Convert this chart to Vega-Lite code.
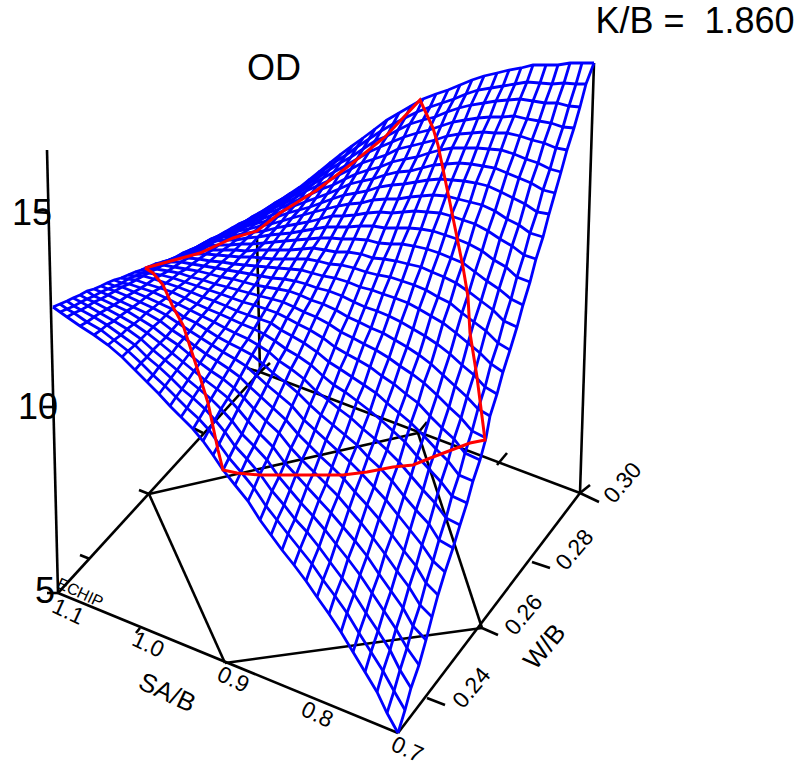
{"$schema":"https://vega.github.io/schema/vega-lite/v6.json","width":802,"height":769,"autosize":{"type":"none"},"padding":0,"background":"white","config":{"view":{"stroke":null}},"datasets":{"axes":[{"s":"sa","x":58,"y":593},{"s":"sa","x":398,"y":733},{"s":"w","x":398,"y":733},{"s":"w","x":580,"y":493},{"s":"b","x":580,"y":493},{"s":"b","x":260,"y":372},{"s":"l","x":260,"y":372},{"s":"l","x":58,"y":593},{"s":"z1","x":58,"y":593},{"s":"z1","x":47,"y":150},{"s":"z2","x":580,"y":493},{"s":"z2","x":594,"y":63},{"s":"z3","x":260,"y":372},{"s":"z3","x":257,"y":237},{"s":"r1","x":149,"y":494},{"s":"r1","x":225,"y":663},{"s":"r2","x":225,"y":663},{"s":"r2","x":482,"y":628},{"s":"r3","x":482,"y":628},{"s":"r3","x":418,"y":433},{"s":"r4","x":418,"y":433},{"s":"r4","x":149,"y":494},{"s":"t1","x":35,"y":212},{"s":"t1","x":50,"y":213},{"s":"t2","x":43,"y":407},{"s":"t2","x":55,"y":407},{"s":"t3","x":47,"y":593},{"s":"t3","x":58,"y":593},{"s":"t4","x":427,"y":698},{"s":"t4","x":445,"y":705},{"s":"t5","x":482,"y":628},{"s":"t5","x":498,"y":635},{"s":"t6","x":532,"y":562},{"s":"t6","x":550,"y":568},{"s":"t7","x":580,"y":493},{"s":"t7","x":599,"y":502},{"s":"t8","x":580,"y":493},{"s":"t8","x":590,"y":485},{"s":"t9","x":497,"y":465},{"s":"t9","x":507,"y":453},{"s":"t10","x":418,"y":433},{"s":"t10","x":427,"y":422},{"s":"t11","x":260,"y":372},{"s":"t11","x":270,"y":363},{"s":"t12","x":260,"y":372},{"s":"t12","x":247,"y":368},{"s":"t13","x":193,"y":428},{"s":"t13","x":203,"y":433},{"s":"t14","x":139,"y":490},{"s":"t14","x":149,"y":494},{"s":"t15","x":80,"y":555},{"s":"t15","x":90,"y":559},{"s":"t16","x":140,"y":628},{"s":"t16","x":136,"y":633}],"red":[{"o":0,"x":145,"y":268},{"o":1,"x":200,"y":253},{"o":2,"x":233,"y":238},{"o":3,"x":257,"y":231},{"o":4,"x":280,"y":213},{"o":5,"x":317,"y":190},{"o":6,"x":350,"y":165},{"o":7,"x":385,"y":137},{"o":8,"x":420,"y":100},{"o":9,"x":433,"y":128},{"o":10,"x":438,"y":145},{"o":11,"x":450,"y":203},{"o":12,"x":463,"y":267},{"o":13,"x":468,"y":297},{"o":14,"x":470,"y":333},{"o":15,"x":477,"y":377},{"o":16,"x":485,"y":440},{"o":17,"x":470,"y":443},{"o":18,"x":433,"y":457},{"o":19,"x":413,"y":465},{"o":20,"x":393,"y":467},{"o":21,"x":367,"y":472},{"o":22,"x":343,"y":475},{"o":23,"x":260,"y":475},{"o":24,"x":237,"y":473},{"o":25,"x":223,"y":470},{"o":26,"x":218,"y":450},{"o":27,"x":208,"y":403},{"o":28,"x":200,"y":377},{"o":29,"x":183,"y":325},{"o":30,"x":173,"y":307},{"o":31,"x":163,"y":285},{"o":32,"x":153,"y":273},{"o":33,"x":145,"y":268}],"mesh":[
{"i":0,"j":0,"x":594,"y":63},{"i":0,"j":1,"x":586,"y":84},{"i":0,"j":2,"x":580,"y":107},{"i":0,"j":3,"x":574,"y":128},{"i":0,"j":4,"x":567,"y":150},{"i":0,"j":5,"x":561,"y":172},{"i":0,"j":6,"x":555,"y":193},{"i":0,"j":7,"x":549,"y":214},{"i":0,"j":8,"x":543,"y":237},{"i":0,"j":9,"x":536,"y":259},{"i":0,"j":10,"x":530,"y":282},{"i":0,"j":11,"x":523,"y":305},{"i":0,"j":12,"x":517,"y":327},{"i":0,"j":13,"x":510,"y":350},{"i":0,"j":14,"x":503,"y":372},{"i":0,"j":15,"x":497,"y":394},{"i":0,"j":16,"x":490,"y":416},{"i":0,"j":17,"x":486,"y":438},{"i":0,"j":18,"x":480,"y":460},{"i":0,"j":19,"x":473,"y":481},{"i":0,"j":20,"x":467,"y":503},{"i":0,"j":21,"x":460,"y":525},{"i":0,"j":22,"x":453,"y":548},{"i":0,"j":23,"x":445,"y":572},{"i":0,"j":24,"x":438,"y":595},{"i":0,"j":25,"x":432,"y":617},{"i":0,"j":26,"x":426,"y":640},{"i":0,"j":27,"x":419,"y":665},{"i":0,"j":28,"x":411,"y":688},{"i":0,"j":29,"x":405,"y":710},{"i":0,"j":30,"x":398,"y":733},
{"i":1,"j":0,"x":582,"y":63},{"i":1,"j":1,"x":576,"y":84},{"i":1,"j":2,"x":569,"y":106},{"i":1,"j":3,"x":563,"y":127},{"i":1,"j":4,"x":556,"y":148},{"i":1,"j":5,"x":550,"y":169},{"i":1,"j":6,"x":543,"y":190},{"i":1,"j":7,"x":537,"y":212},{"i":1,"j":8,"x":530,"y":233},{"i":1,"j":9,"x":524,"y":255},{"i":1,"j":10,"x":517,"y":277},{"i":1,"j":11,"x":511,"y":299},{"i":1,"j":12,"x":504,"y":321},{"i":1,"j":13,"x":498,"y":343},{"i":1,"j":14,"x":491,"y":364},{"i":1,"j":15,"x":485,"y":387},{"i":1,"j":16,"x":478,"y":409},{"i":1,"j":17,"x":472,"y":431},{"i":1,"j":18,"x":465,"y":453},{"i":1,"j":19,"x":459,"y":475},{"i":1,"j":20,"x":452,"y":496},{"i":1,"j":21,"x":446,"y":518},{"i":1,"j":22,"x":439,"y":540},{"i":1,"j":23,"x":433,"y":561},{"i":1,"j":24,"x":426,"y":583},{"i":1,"j":25,"x":420,"y":605},{"i":1,"j":26,"x":413,"y":626},{"i":1,"j":27,"x":407,"y":648},{"i":1,"j":28,"x":400,"y":670},{"i":1,"j":29,"x":394,"y":691},{"i":1,"j":30,"x":387,"y":713},
{"i":2,"j":0,"x":570,"y":63},{"i":2,"j":1,"x":564,"y":83},{"i":2,"j":2,"x":557,"y":103},{"i":2,"j":3,"x":551,"y":123},{"i":2,"j":4,"x":544,"y":143},{"i":2,"j":5,"x":538,"y":163},{"i":2,"j":6,"x":531,"y":183},{"i":2,"j":7,"x":525,"y":204},{"i":2,"j":8,"x":519,"y":225},{"i":2,"j":9,"x":512,"y":246},{"i":2,"j":10,"x":506,"y":267},{"i":2,"j":11,"x":499,"y":289},{"i":2,"j":12,"x":493,"y":310},{"i":2,"j":13,"x":486,"y":331},{"i":2,"j":14,"x":480,"y":353},{"i":2,"j":15,"x":474,"y":375},{"i":2,"j":16,"x":467,"y":397},{"i":2,"j":17,"x":461,"y":418},{"i":2,"j":18,"x":454,"y":439},{"i":2,"j":19,"x":448,"y":461},{"i":2,"j":20,"x":441,"y":482},{"i":2,"j":21,"x":435,"y":503},{"i":2,"j":22,"x":429,"y":524},{"i":2,"j":23,"x":422,"y":545},{"i":2,"j":24,"x":416,"y":566},{"i":2,"j":25,"x":409,"y":587},{"i":2,"j":26,"x":403,"y":608},{"i":2,"j":27,"x":396,"y":629},{"i":2,"j":28,"x":390,"y":650},{"i":2,"j":29,"x":383,"y":671},{"i":2,"j":30,"x":377,"y":692},
{"i":3,"j":0,"x":558,"y":65},{"i":3,"j":1,"x":552,"y":84},{"i":3,"j":2,"x":545,"y":103},{"i":3,"j":3,"x":539,"y":121},{"i":3,"j":4,"x":532,"y":140},{"i":3,"j":5,"x":526,"y":159},{"i":3,"j":6,"x":519,"y":178},{"i":3,"j":7,"x":513,"y":198},{"i":3,"j":8,"x":507,"y":219},{"i":3,"j":9,"x":500,"y":239},{"i":3,"j":10,"x":494,"y":260},{"i":3,"j":11,"x":487,"y":281},{"i":3,"j":12,"x":481,"y":301},{"i":3,"j":13,"x":474,"y":322},{"i":3,"j":14,"x":468,"y":343},{"i":3,"j":15,"x":462,"y":365},{"i":3,"j":16,"x":455,"y":386},{"i":3,"j":17,"x":449,"y":407},{"i":3,"j":18,"x":442,"y":428},{"i":3,"j":19,"x":436,"y":449},{"i":3,"j":20,"x":429,"y":469},{"i":3,"j":21,"x":423,"y":490},{"i":3,"j":22,"x":416,"y":510},{"i":3,"j":23,"x":410,"y":530},{"i":3,"j":24,"x":404,"y":551},{"i":3,"j":25,"x":397,"y":571},{"i":3,"j":26,"x":391,"y":591},{"i":3,"j":27,"x":384,"y":611},{"i":3,"j":28,"x":378,"y":631},{"i":3,"j":29,"x":371,"y":652},{"i":3,"j":30,"x":365,"y":672},
{"i":4,"j":0,"x":546,"y":65},{"i":4,"j":1,"x":540,"y":83},{"i":4,"j":2,"x":533,"y":101},{"i":4,"j":3,"x":527,"y":119},{"i":4,"j":4,"x":520,"y":136},{"i":4,"j":5,"x":514,"y":154},{"i":4,"j":6,"x":507,"y":173},{"i":4,"j":7,"x":501,"y":192},{"i":4,"j":8,"x":495,"y":211},{"i":4,"j":9,"x":488,"y":231},{"i":4,"j":10,"x":482,"y":251},{"i":4,"j":11,"x":475,"y":272},{"i":4,"j":12,"x":469,"y":292},{"i":4,"j":13,"x":462,"y":313},{"i":4,"j":14,"x":456,"y":333},{"i":4,"j":15,"x":450,"y":354},{"i":4,"j":16,"x":443,"y":375},{"i":4,"j":17,"x":437,"y":395},{"i":4,"j":18,"x":430,"y":416},{"i":4,"j":19,"x":424,"y":436},{"i":4,"j":20,"x":417,"y":456},{"i":4,"j":21,"x":411,"y":476},{"i":4,"j":22,"x":404,"y":496},{"i":4,"j":23,"x":398,"y":515},{"i":4,"j":24,"x":392,"y":535},{"i":4,"j":25,"x":385,"y":554},{"i":4,"j":26,"x":379,"y":574},{"i":4,"j":27,"x":372,"y":593},{"i":4,"j":28,"x":366,"y":613},{"i":4,"j":29,"x":359,"y":633},{"i":4,"j":30,"x":353,"y":652},
{"i":5,"j":0,"x":533,"y":65},{"i":5,"j":1,"x":527,"y":82},{"i":5,"j":2,"x":520,"y":99},{"i":5,"j":3,"x":514,"y":116},{"i":5,"j":4,"x":507,"y":133},{"i":5,"j":5,"x":501,"y":150},{"i":5,"j":6,"x":495,"y":168},{"i":5,"j":7,"x":488,"y":186},{"i":5,"j":8,"x":482,"y":205},{"i":5,"j":9,"x":475,"y":224},{"i":5,"j":10,"x":469,"y":244},{"i":5,"j":11,"x":463,"y":263},{"i":5,"j":12,"x":456,"y":283},{"i":5,"j":13,"x":450,"y":303},{"i":5,"j":14,"x":443,"y":323},{"i":5,"j":15,"x":437,"y":344},{"i":5,"j":16,"x":431,"y":364},{"i":5,"j":17,"x":424,"y":383},{"i":5,"j":18,"x":418,"y":403},{"i":5,"j":19,"x":411,"y":423},{"i":5,"j":20,"x":405,"y":442},{"i":5,"j":21,"x":399,"y":462},{"i":5,"j":22,"x":392,"y":481},{"i":5,"j":23,"x":386,"y":500},{"i":5,"j":24,"x":379,"y":519},{"i":5,"j":25,"x":373,"y":538},{"i":5,"j":26,"x":367,"y":556},{"i":5,"j":27,"x":360,"y":575},{"i":5,"j":28,"x":354,"y":594},{"i":5,"j":29,"x":347,"y":613},{"i":5,"j":30,"x":341,"y":632},
{"i":6,"j":0,"x":521,"y":68},{"i":6,"j":1,"x":515,"y":84},{"i":6,"j":2,"x":508,"y":100},{"i":6,"j":3,"x":502,"y":117},{"i":6,"j":4,"x":495,"y":133},{"i":6,"j":5,"x":489,"y":149},{"i":6,"j":6,"x":483,"y":166},{"i":6,"j":7,"x":476,"y":183},{"i":6,"j":8,"x":470,"y":202},{"i":6,"j":9,"x":463,"y":220},{"i":6,"j":10,"x":457,"y":239},{"i":6,"j":11,"x":451,"y":258},{"i":6,"j":12,"x":444,"y":277},{"i":6,"j":13,"x":438,"y":297},{"i":6,"j":14,"x":431,"y":316},{"i":6,"j":15,"x":425,"y":336},{"i":6,"j":16,"x":419,"y":355},{"i":6,"j":17,"x":412,"y":374},{"i":6,"j":18,"x":406,"y":394},{"i":6,"j":19,"x":399,"y":413},{"i":6,"j":20,"x":393,"y":431},{"i":6,"j":21,"x":387,"y":450},{"i":6,"j":22,"x":380,"y":468},{"i":6,"j":23,"x":374,"y":487},{"i":6,"j":24,"x":367,"y":505},{"i":6,"j":25,"x":361,"y":523},{"i":6,"j":26,"x":355,"y":541},{"i":6,"j":27,"x":348,"y":559},{"i":6,"j":28,"x":342,"y":578},{"i":6,"j":29,"x":335,"y":596},{"i":6,"j":30,"x":329,"y":614},
{"i":7,"j":0,"x":509,"y":70},{"i":7,"j":1,"x":503,"y":86},{"i":7,"j":2,"x":496,"y":101},{"i":7,"j":3,"x":490,"y":117},{"i":7,"j":4,"x":483,"y":132},{"i":7,"j":5,"x":477,"y":148},{"i":7,"j":6,"x":471,"y":164},{"i":7,"j":7,"x":464,"y":181},{"i":7,"j":8,"x":458,"y":199},{"i":7,"j":9,"x":451,"y":216},{"i":7,"j":10,"x":445,"y":235},{"i":7,"j":11,"x":439,"y":253},{"i":7,"j":12,"x":432,"y":272},{"i":7,"j":13,"x":426,"y":290},{"i":7,"j":14,"x":419,"y":309},{"i":7,"j":15,"x":413,"y":329},{"i":7,"j":16,"x":407,"y":347},{"i":7,"j":17,"x":400,"y":366},{"i":7,"j":18,"x":394,"y":384},{"i":7,"j":19,"x":387,"y":403},{"i":7,"j":20,"x":381,"y":420},{"i":7,"j":21,"x":375,"y":439},{"i":7,"j":22,"x":368,"y":457},{"i":7,"j":23,"x":362,"y":474},{"i":7,"j":24,"x":355,"y":492},{"i":7,"j":25,"x":349,"y":509},{"i":7,"j":26,"x":343,"y":527},{"i":7,"j":27,"x":336,"y":544},{"i":7,"j":28,"x":330,"y":562},{"i":7,"j":29,"x":323,"y":580},{"i":7,"j":30,"x":317,"y":597},
{"i":8,"j":0,"x":497,"y":73},{"i":8,"j":1,"x":491,"y":88},{"i":8,"j":2,"x":484,"y":103},{"i":8,"j":3,"x":478,"y":118},{"i":8,"j":4,"x":472,"y":133},{"i":8,"j":5,"x":465,"y":148},{"i":8,"j":6,"x":459,"y":163},{"i":8,"j":7,"x":452,"y":180},{"i":8,"j":8,"x":446,"y":196},{"i":8,"j":9,"x":440,"y":213},{"i":8,"j":10,"x":433,"y":231},{"i":8,"j":11,"x":427,"y":249},{"i":8,"j":12,"x":421,"y":267},{"i":8,"j":13,"x":414,"y":285},{"i":8,"j":14,"x":408,"y":303},{"i":8,"j":15,"x":401,"y":322},{"i":8,"j":16,"x":395,"y":340},{"i":8,"j":17,"x":389,"y":358},{"i":8,"j":18,"x":382,"y":376},{"i":8,"j":19,"x":376,"y":393},{"i":8,"j":20,"x":370,"y":411},{"i":8,"j":21,"x":363,"y":429},{"i":8,"j":22,"x":357,"y":445},{"i":8,"j":23,"x":350,"y":462},{"i":8,"j":24,"x":344,"y":479},{"i":8,"j":25,"x":338,"y":496},{"i":8,"j":26,"x":331,"y":513},{"i":8,"j":27,"x":325,"y":530},{"i":8,"j":28,"x":319,"y":547},{"i":8,"j":29,"x":312,"y":564},{"i":8,"j":30,"x":306,"y":581},
{"i":9,"j":0,"x":484,"y":76},{"i":9,"j":1,"x":478,"y":90},{"i":9,"j":2,"x":471,"y":105},{"i":9,"j":3,"x":465,"y":120},{"i":9,"j":4,"x":459,"y":134},{"i":9,"j":5,"x":452,"y":148},{"i":9,"j":6,"x":446,"y":164},{"i":9,"j":7,"x":440,"y":179},{"i":9,"j":8,"x":433,"y":195},{"i":9,"j":9,"x":427,"y":212},{"i":9,"j":10,"x":421,"y":229},{"i":9,"j":11,"x":414,"y":246},{"i":9,"j":12,"x":408,"y":264},{"i":9,"j":13,"x":402,"y":281},{"i":9,"j":14,"x":395,"y":298},{"i":9,"j":15,"x":389,"y":316},{"i":9,"j":16,"x":383,"y":333},{"i":9,"j":17,"x":376,"y":350},{"i":9,"j":18,"x":370,"y":367},{"i":9,"j":19,"x":364,"y":385},{"i":9,"j":20,"x":357,"y":401},{"i":9,"j":21,"x":351,"y":418},{"i":9,"j":22,"x":345,"y":435},{"i":9,"j":23,"x":338,"y":451},{"i":9,"j":24,"x":332,"y":467},{"i":9,"j":25,"x":326,"y":484},{"i":9,"j":26,"x":319,"y":500},{"i":9,"j":27,"x":313,"y":516},{"i":9,"j":28,"x":307,"y":532},{"i":9,"j":29,"x":300,"y":549},{"i":9,"j":30,"x":294,"y":565},
{"i":10,"j":0,"x":472,"y":80},{"i":10,"j":1,"x":466,"y":94},{"i":10,"j":2,"x":459,"y":108},{"i":10,"j":3,"x":453,"y":122},{"i":10,"j":4,"x":447,"y":136},{"i":10,"j":5,"x":440,"y":150},{"i":10,"j":6,"x":434,"y":165},{"i":10,"j":7,"x":428,"y":180},{"i":10,"j":8,"x":421,"y":196},{"i":10,"j":9,"x":415,"y":211},{"i":10,"j":10,"x":409,"y":228},{"i":10,"j":11,"x":402,"y":244},{"i":10,"j":12,"x":396,"y":261},{"i":10,"j":13,"x":390,"y":277},{"i":10,"j":14,"x":383,"y":294},{"i":10,"j":15,"x":377,"y":311},{"i":10,"j":16,"x":371,"y":328},{"i":10,"j":17,"x":364,"y":344},{"i":10,"j":18,"x":358,"y":360},{"i":10,"j":19,"x":352,"y":377},{"i":10,"j":20,"x":345,"y":392},{"i":10,"j":21,"x":339,"y":409},{"i":10,"j":22,"x":333,"y":425},{"i":10,"j":23,"x":326,"y":440},{"i":10,"j":24,"x":320,"y":456},{"i":10,"j":25,"x":314,"y":472},{"i":10,"j":26,"x":307,"y":487},{"i":10,"j":27,"x":301,"y":503},{"i":10,"j":28,"x":295,"y":519},{"i":10,"j":29,"x":288,"y":534},{"i":10,"j":30,"x":282,"y":550},
{"i":11,"j":0,"x":460,"y":85},{"i":11,"j":1,"x":454,"y":99},{"i":11,"j":2,"x":447,"y":112},{"i":11,"j":3,"x":441,"y":126},{"i":11,"j":4,"x":435,"y":140},{"i":11,"j":5,"x":429,"y":153},{"i":11,"j":6,"x":422,"y":168},{"i":11,"j":7,"x":416,"y":182},{"i":11,"j":8,"x":410,"y":197},{"i":11,"j":9,"x":403,"y":212},{"i":11,"j":10,"x":397,"y":228},{"i":11,"j":11,"x":391,"y":244},{"i":11,"j":12,"x":384,"y":259},{"i":11,"j":13,"x":378,"y":275},{"i":11,"j":14,"x":372,"y":290},{"i":11,"j":15,"x":365,"y":307},{"i":11,"j":16,"x":359,"y":322},{"i":11,"j":17,"x":353,"y":338},{"i":11,"j":18,"x":347,"y":354},{"i":11,"j":19,"x":340,"y":369},{"i":11,"j":20,"x":334,"y":385},{"i":11,"j":21,"x":328,"y":400},{"i":11,"j":22,"x":321,"y":415},{"i":11,"j":23,"x":315,"y":430},{"i":11,"j":24,"x":309,"y":445},{"i":11,"j":25,"x":302,"y":460},{"i":11,"j":26,"x":296,"y":475},{"i":11,"j":27,"x":290,"y":490},{"i":11,"j":28,"x":284,"y":505},{"i":11,"j":29,"x":277,"y":520},{"i":11,"j":30,"x":271,"y":535},
{"i":12,"j":0,"x":448,"y":90},{"i":12,"j":1,"x":442,"y":103},{"i":12,"j":2,"x":435,"y":117},{"i":12,"j":3,"x":429,"y":130},{"i":12,"j":4,"x":423,"y":143},{"i":12,"j":5,"x":417,"y":157},{"i":12,"j":6,"x":410,"y":171},{"i":12,"j":7,"x":404,"y":184},{"i":12,"j":8,"x":398,"y":199},{"i":12,"j":9,"x":392,"y":213},{"i":12,"j":10,"x":385,"y":228},{"i":12,"j":11,"x":379,"y":243},{"i":12,"j":12,"x":373,"y":258},{"i":12,"j":13,"x":366,"y":272},{"i":12,"j":14,"x":360,"y":287},{"i":12,"j":15,"x":354,"y":302},{"i":12,"j":16,"x":348,"y":317},{"i":12,"j":17,"x":341,"y":332},{"i":12,"j":18,"x":335,"y":347},{"i":12,"j":19,"x":329,"y":362},{"i":12,"j":20,"x":323,"y":376},{"i":12,"j":21,"x":316,"y":391},{"i":12,"j":22,"x":310,"y":405},{"i":12,"j":23,"x":304,"y":420},{"i":12,"j":24,"x":298,"y":434},{"i":12,"j":25,"x":291,"y":448},{"i":12,"j":26,"x":285,"y":463},{"i":12,"j":27,"x":279,"y":477},{"i":12,"j":28,"x":272,"y":491},{"i":12,"j":29,"x":266,"y":506},{"i":12,"j":30,"x":260,"y":520},
{"i":13,"j":0,"x":436,"y":94},{"i":13,"j":1,"x":430,"y":107},{"i":13,"j":2,"x":423,"y":120},{"i":13,"j":3,"x":417,"y":133},{"i":13,"j":4,"x":411,"y":146},{"i":13,"j":5,"x":405,"y":159},{"i":13,"j":6,"x":398,"y":172},{"i":13,"j":7,"x":392,"y":185},{"i":13,"j":8,"x":386,"y":199},{"i":13,"j":9,"x":380,"y":212},{"i":13,"j":10,"x":373,"y":226},{"i":13,"j":11,"x":367,"y":240},{"i":13,"j":12,"x":361,"y":254},{"i":13,"j":13,"x":354,"y":268},{"i":13,"j":14,"x":348,"y":282},{"i":13,"j":15,"x":342,"y":296},{"i":13,"j":16,"x":336,"y":310},{"i":13,"j":17,"x":329,"y":324},{"i":13,"j":18,"x":323,"y":338},{"i":13,"j":19,"x":317,"y":352},{"i":13,"j":20,"x":311,"y":365},{"i":13,"j":21,"x":304,"y":379},{"i":13,"j":22,"x":298,"y":393},{"i":13,"j":23,"x":292,"y":406},{"i":13,"j":24,"x":286,"y":420},{"i":13,"j":25,"x":279,"y":433},{"i":13,"j":26,"x":273,"y":447},{"i":13,"j":27,"x":267,"y":460},{"i":13,"j":28,"x":260,"y":474},{"i":13,"j":29,"x":254,"y":488},{"i":13,"j":30,"x":248,"y":501},
{"i":14,"j":0,"x":423,"y":99},{"i":14,"j":1,"x":417,"y":112},{"i":14,"j":2,"x":410,"y":124},{"i":14,"j":3,"x":404,"y":137},{"i":14,"j":4,"x":398,"y":149},{"i":14,"j":5,"x":392,"y":162},{"i":14,"j":6,"x":385,"y":175},{"i":14,"j":7,"x":379,"y":187},{"i":14,"j":8,"x":373,"y":200},{"i":14,"j":9,"x":367,"y":213},{"i":14,"j":10,"x":360,"y":226},{"i":14,"j":11,"x":354,"y":239},{"i":14,"j":12,"x":348,"y":252},{"i":14,"j":13,"x":341,"y":265},{"i":14,"j":14,"x":335,"y":278},{"i":14,"j":15,"x":329,"y":291},{"i":14,"j":16,"x":323,"y":304},{"i":14,"j":17,"x":316,"y":317},{"i":14,"j":18,"x":310,"y":330},{"i":14,"j":19,"x":304,"y":343},{"i":14,"j":20,"x":298,"y":356},{"i":14,"j":21,"x":291,"y":369},{"i":14,"j":22,"x":285,"y":382},{"i":14,"j":23,"x":279,"y":395},{"i":14,"j":24,"x":273,"y":408},{"i":14,"j":25,"x":266,"y":421},{"i":14,"j":26,"x":260,"y":434},{"i":14,"j":27,"x":254,"y":446},{"i":14,"j":28,"x":247,"y":459},{"i":14,"j":29,"x":241,"y":472},{"i":14,"j":30,"x":235,"y":485},
{"i":15,"j":0,"x":411,"y":106},{"i":15,"j":1,"x":405,"y":118},{"i":15,"j":2,"x":398,"y":130},{"i":15,"j":3,"x":392,"y":142},{"i":15,"j":4,"x":386,"y":155},{"i":15,"j":5,"x":380,"y":167},{"i":15,"j":6,"x":373,"y":179},{"i":15,"j":7,"x":367,"y":191},{"i":15,"j":8,"x":361,"y":203},{"i":15,"j":9,"x":355,"y":215},{"i":15,"j":10,"x":348,"y":227},{"i":15,"j":11,"x":342,"y":239},{"i":15,"j":12,"x":336,"y":252},{"i":15,"j":13,"x":330,"y":264},{"i":15,"j":14,"x":323,"y":276},{"i":15,"j":15,"x":317,"y":288},{"i":15,"j":16,"x":311,"y":300},{"i":15,"j":17,"x":304,"y":312},{"i":15,"j":18,"x":298,"y":324},{"i":15,"j":19,"x":292,"y":336},{"i":15,"j":20,"x":286,"y":349},{"i":15,"j":21,"x":279,"y":361},{"i":15,"j":22,"x":273,"y":373},{"i":15,"j":23,"x":267,"y":385},{"i":15,"j":24,"x":261,"y":397},{"i":15,"j":25,"x":254,"y":409},{"i":15,"j":26,"x":248,"y":421},{"i":15,"j":27,"x":242,"y":434},{"i":15,"j":28,"x":235,"y":446},{"i":15,"j":29,"x":229,"y":458},{"i":15,"j":30,"x":223,"y":470},
{"i":16,"j":0,"x":399,"y":113},{"i":16,"j":1,"x":393,"y":124},{"i":16,"j":2,"x":387,"y":136},{"i":16,"j":3,"x":380,"y":147},{"i":16,"j":4,"x":374,"y":159},{"i":16,"j":5,"x":368,"y":170},{"i":16,"j":6,"x":362,"y":181},{"i":16,"j":7,"x":356,"y":193},{"i":16,"j":8,"x":349,"y":204},{"i":16,"j":9,"x":343,"y":216},{"i":16,"j":10,"x":337,"y":227},{"i":16,"j":11,"x":331,"y":238},{"i":16,"j":12,"x":325,"y":250},{"i":16,"j":13,"x":318,"y":261},{"i":16,"j":14,"x":312,"y":273},{"i":16,"j":15,"x":306,"y":284},{"i":16,"j":16,"x":300,"y":295},{"i":16,"j":17,"x":294,"y":307},{"i":16,"j":18,"x":287,"y":318},{"i":16,"j":19,"x":281,"y":330},{"i":16,"j":20,"x":275,"y":341},{"i":16,"j":21,"x":269,"y":352},{"i":16,"j":22,"x":263,"y":364},{"i":16,"j":23,"x":256,"y":375},{"i":16,"j":24,"x":250,"y":387},{"i":16,"j":25,"x":244,"y":398},{"i":16,"j":26,"x":238,"y":409},{"i":16,"j":27,"x":232,"y":421},{"i":16,"j":28,"x":225,"y":432},{"i":16,"j":29,"x":219,"y":444},{"i":16,"j":30,"x":213,"y":455},
{"i":17,"j":0,"x":387,"y":120},{"i":17,"j":1,"x":381,"y":131},{"i":17,"j":2,"x":375,"y":141},{"i":17,"j":3,"x":369,"y":152},{"i":17,"j":4,"x":362,"y":163},{"i":17,"j":5,"x":356,"y":174},{"i":17,"j":6,"x":350,"y":184},{"i":17,"j":7,"x":344,"y":195},{"i":17,"j":8,"x":338,"y":206},{"i":17,"j":9,"x":332,"y":216},{"i":17,"j":10,"x":326,"y":227},{"i":17,"j":11,"x":320,"y":238},{"i":17,"j":12,"x":313,"y":248},{"i":17,"j":13,"x":307,"y":259},{"i":17,"j":14,"x":301,"y":270},{"i":17,"j":15,"x":295,"y":281},{"i":17,"j":16,"x":289,"y":291},{"i":17,"j":17,"x":283,"y":302},{"i":17,"j":18,"x":277,"y":313},{"i":17,"j":19,"x":271,"y":323},{"i":17,"j":20,"x":264,"y":334},{"i":17,"j":21,"x":258,"y":345},{"i":17,"j":22,"x":252,"y":355},{"i":17,"j":23,"x":246,"y":366},{"i":17,"j":24,"x":240,"y":377},{"i":17,"j":25,"x":234,"y":388},{"i":17,"j":26,"x":228,"y":398},{"i":17,"j":27,"x":221,"y":409},{"i":17,"j":28,"x":215,"y":420},{"i":17,"j":29,"x":209,"y":430},{"i":17,"j":30,"x":203,"y":441},
{"i":18,"j":0,"x":375,"y":129},{"i":18,"j":1,"x":369,"y":139},{"i":18,"j":2,"x":363,"y":149},{"i":18,"j":3,"x":357,"y":159},{"i":18,"j":4,"x":351,"y":169},{"i":18,"j":5,"x":345,"y":179},{"i":18,"j":6,"x":339,"y":189},{"i":18,"j":7,"x":332,"y":199},{"i":18,"j":8,"x":326,"y":209},{"i":18,"j":9,"x":320,"y":219},{"i":18,"j":10,"x":314,"y":229},{"i":18,"j":11,"x":308,"y":239},{"i":18,"j":12,"x":302,"y":249},{"i":18,"j":13,"x":296,"y":259},{"i":18,"j":14,"x":290,"y":269},{"i":18,"j":15,"x":284,"y":279},{"i":18,"j":16,"x":278,"y":289},{"i":18,"j":17,"x":272,"y":299},{"i":18,"j":18,"x":266,"y":309},{"i":18,"j":19,"x":260,"y":319},{"i":18,"j":20,"x":254,"y":329},{"i":18,"j":21,"x":248,"y":339},{"i":18,"j":22,"x":241,"y":349},{"i":18,"j":23,"x":235,"y":359},{"i":18,"j":24,"x":229,"y":369},{"i":18,"j":25,"x":223,"y":379},{"i":18,"j":26,"x":217,"y":389},{"i":18,"j":27,"x":211,"y":399},{"i":18,"j":28,"x":205,"y":409},{"i":18,"j":29,"x":199,"y":419},{"i":18,"j":30,"x":193,"y":429},
{"i":19,"j":0,"x":363,"y":138},{"i":19,"j":1,"x":357,"y":147},{"i":19,"j":2,"x":351,"y":157},{"i":19,"j":3,"x":345,"y":166},{"i":19,"j":4,"x":339,"y":175},{"i":19,"j":5,"x":333,"y":185},{"i":19,"j":6,"x":327,"y":194},{"i":19,"j":7,"x":321,"y":203},{"i":19,"j":8,"x":314,"y":212},{"i":19,"j":9,"x":308,"y":222},{"i":19,"j":10,"x":302,"y":231},{"i":19,"j":11,"x":296,"y":240},{"i":19,"j":12,"x":290,"y":250},{"i":19,"j":13,"x":284,"y":259},{"i":19,"j":14,"x":278,"y":268},{"i":19,"j":15,"x":272,"y":278},{"i":19,"j":16,"x":266,"y":287},{"i":19,"j":17,"x":260,"y":296},{"i":19,"j":18,"x":254,"y":305},{"i":19,"j":19,"x":248,"y":315},{"i":19,"j":20,"x":242,"y":324},{"i":19,"j":21,"x":235,"y":333},{"i":19,"j":22,"x":229,"y":343},{"i":19,"j":23,"x":223,"y":352},{"i":19,"j":24,"x":217,"y":361},{"i":19,"j":25,"x":211,"y":371},{"i":19,"j":26,"x":205,"y":380},{"i":19,"j":27,"x":199,"y":389},{"i":19,"j":28,"x":193,"y":398},{"i":19,"j":29,"x":187,"y":408},{"i":19,"j":30,"x":181,"y":417},
{"i":20,"j":0,"x":352,"y":146},{"i":20,"j":1,"x":346,"y":155},{"i":20,"j":2,"x":340,"y":163},{"i":20,"j":3,"x":334,"y":172},{"i":20,"j":4,"x":328,"y":181},{"i":20,"j":5,"x":322,"y":189},{"i":20,"j":6,"x":316,"y":198},{"i":20,"j":7,"x":310,"y":207},{"i":20,"j":8,"x":303,"y":215},{"i":20,"j":9,"x":297,"y":224},{"i":20,"j":10,"x":291,"y":233},{"i":20,"j":11,"x":285,"y":241},{"i":20,"j":12,"x":279,"y":250},{"i":20,"j":13,"x":273,"y":259},{"i":20,"j":14,"x":267,"y":267},{"i":20,"j":15,"x":261,"y":276},{"i":20,"j":16,"x":255,"y":285},{"i":20,"j":17,"x":249,"y":293},{"i":20,"j":18,"x":243,"y":302},{"i":20,"j":19,"x":237,"y":311},{"i":20,"j":20,"x":231,"y":319},{"i":20,"j":21,"x":225,"y":328},{"i":20,"j":22,"x":218,"y":337},{"i":20,"j":23,"x":212,"y":345},{"i":20,"j":24,"x":206,"y":354},{"i":20,"j":25,"x":200,"y":363},{"i":20,"j":26,"x":194,"y":371},{"i":20,"j":27,"x":188,"y":380},{"i":20,"j":28,"x":182,"y":389},{"i":20,"j":29,"x":176,"y":397},{"i":20,"j":30,"x":170,"y":406},
{"i":21,"j":0,"x":341,"y":154},{"i":21,"j":1,"x":335,"y":162},{"i":21,"j":2,"x":329,"y":170},{"i":21,"j":3,"x":323,"y":178},{"i":21,"j":4,"x":317,"y":186},{"i":21,"j":5,"x":311,"y":194},{"i":21,"j":6,"x":305,"y":202},{"i":21,"j":7,"x":299,"y":210},{"i":21,"j":8,"x":292,"y":218},{"i":21,"j":9,"x":286,"y":226},{"i":21,"j":10,"x":280,"y":234},{"i":21,"j":11,"x":274,"y":242},{"i":21,"j":12,"x":268,"y":250},{"i":21,"j":13,"x":262,"y":258},{"i":21,"j":14,"x":256,"y":266},{"i":21,"j":15,"x":250,"y":274},{"i":21,"j":16,"x":244,"y":282},{"i":21,"j":17,"x":238,"y":290},{"i":21,"j":18,"x":232,"y":298},{"i":21,"j":19,"x":226,"y":306},{"i":21,"j":20,"x":220,"y":314},{"i":21,"j":21,"x":214,"y":322},{"i":21,"j":22,"x":207,"y":330},{"i":21,"j":23,"x":201,"y":338},{"i":21,"j":24,"x":195,"y":346},{"i":21,"j":25,"x":189,"y":354},{"i":21,"j":26,"x":183,"y":362},{"i":21,"j":27,"x":177,"y":370},{"i":21,"j":28,"x":171,"y":378},{"i":21,"j":29,"x":165,"y":386},{"i":21,"j":30,"x":159,"y":394},
{"i":22,"j":0,"x":331,"y":162},{"i":22,"j":1,"x":325,"y":169},{"i":22,"j":2,"x":319,"y":177},{"i":22,"j":3,"x":313,"y":184},{"i":22,"j":4,"x":306,"y":191},{"i":22,"j":5,"x":300,"y":199},{"i":22,"j":6,"x":294,"y":206},{"i":22,"j":7,"x":288,"y":213},{"i":22,"j":8,"x":282,"y":221},{"i":22,"j":9,"x":276,"y":228},{"i":22,"j":10,"x":270,"y":235},{"i":22,"j":11,"x":264,"y":243},{"i":22,"j":12,"x":257,"y":250},{"i":22,"j":13,"x":251,"y":257},{"i":22,"j":14,"x":245,"y":265},{"i":22,"j":15,"x":239,"y":272},{"i":22,"j":16,"x":233,"y":279},{"i":22,"j":17,"x":227,"y":287},{"i":22,"j":18,"x":221,"y":294},{"i":22,"j":19,"x":214,"y":301},{"i":22,"j":20,"x":208,"y":309},{"i":22,"j":21,"x":202,"y":316},{"i":22,"j":22,"x":196,"y":323},{"i":22,"j":23,"x":190,"y":331},{"i":22,"j":24,"x":184,"y":338},{"i":22,"j":25,"x":178,"y":345},{"i":22,"j":26,"x":172,"y":353},{"i":22,"j":27,"x":165,"y":360},{"i":22,"j":28,"x":159,"y":367},{"i":22,"j":29,"x":153,"y":375},{"i":22,"j":30,"x":147,"y":382},
{"i":23,"j":0,"x":320,"y":171},{"i":23,"j":1,"x":314,"y":178},{"i":23,"j":2,"x":308,"y":184},{"i":23,"j":3,"x":301,"y":191},{"i":23,"j":4,"x":295,"y":198},{"i":23,"j":5,"x":289,"y":204},{"i":23,"j":6,"x":283,"y":211},{"i":23,"j":7,"x":277,"y":217},{"i":23,"j":8,"x":271,"y":224},{"i":23,"j":9,"x":264,"y":231},{"i":23,"j":10,"x":258,"y":237},{"i":23,"j":11,"x":252,"y":244},{"i":23,"j":12,"x":246,"y":251},{"i":23,"j":13,"x":240,"y":257},{"i":23,"j":14,"x":234,"y":264},{"i":23,"j":15,"x":227,"y":270},{"i":23,"j":16,"x":221,"y":277},{"i":23,"j":17,"x":215,"y":284},{"i":23,"j":18,"x":209,"y":290},{"i":23,"j":19,"x":203,"y":297},{"i":23,"j":20,"x":197,"y":304},{"i":23,"j":21,"x":190,"y":310},{"i":23,"j":22,"x":184,"y":317},{"i":23,"j":23,"x":178,"y":323},{"i":23,"j":24,"x":172,"y":330},{"i":23,"j":25,"x":166,"y":337},{"i":23,"j":26,"x":160,"y":343},{"i":23,"j":27,"x":153,"y":350},{"i":23,"j":28,"x":147,"y":357},{"i":23,"j":29,"x":141,"y":363},{"i":23,"j":30,"x":135,"y":370},
{"i":24,"j":0,"x":310,"y":179},{"i":24,"j":1,"x":304,"y":185},{"i":24,"j":2,"x":297,"y":191},{"i":24,"j":3,"x":291,"y":197},{"i":24,"j":4,"x":285,"y":203},{"i":24,"j":5,"x":279,"y":209},{"i":24,"j":6,"x":272,"y":215},{"i":24,"j":7,"x":266,"y":221},{"i":24,"j":8,"x":260,"y":226},{"i":24,"j":9,"x":254,"y":232},{"i":24,"j":10,"x":247,"y":238},{"i":24,"j":11,"x":241,"y":244},{"i":24,"j":12,"x":235,"y":250},{"i":24,"j":13,"x":229,"y":256},{"i":24,"j":14,"x":222,"y":262},{"i":24,"j":15,"x":216,"y":268},{"i":24,"j":16,"x":210,"y":274},{"i":24,"j":17,"x":203,"y":280},{"i":24,"j":18,"x":197,"y":286},{"i":24,"j":19,"x":191,"y":292},{"i":24,"j":20,"x":185,"y":298},{"i":24,"j":21,"x":178,"y":304},{"i":24,"j":22,"x":172,"y":309},{"i":24,"j":23,"x":166,"y":315},{"i":24,"j":24,"x":160,"y":321},{"i":24,"j":25,"x":153,"y":327},{"i":24,"j":26,"x":147,"y":333},{"i":24,"j":27,"x":141,"y":339},{"i":24,"j":28,"x":135,"y":345},{"i":24,"j":29,"x":128,"y":351},{"i":24,"j":30,"x":122,"y":357},
{"i":25,"j":0,"x":300,"y":187},{"i":25,"j":1,"x":294,"y":192},{"i":25,"j":2,"x":287,"y":198},{"i":25,"j":3,"x":281,"y":203},{"i":25,"j":4,"x":274,"y":208},{"i":25,"j":5,"x":268,"y":213},{"i":25,"j":6,"x":262,"y":219},{"i":25,"j":7,"x":255,"y":224},{"i":25,"j":8,"x":249,"y":229},{"i":25,"j":9,"x":242,"y":234},{"i":25,"j":10,"x":236,"y":240},{"i":25,"j":11,"x":230,"y":245},{"i":25,"j":12,"x":223,"y":250},{"i":25,"j":13,"x":217,"y":255},{"i":25,"j":14,"x":210,"y":261},{"i":25,"j":15,"x":204,"y":266},{"i":25,"j":16,"x":198,"y":271},{"i":25,"j":17,"x":191,"y":277},{"i":25,"j":18,"x":185,"y":282},{"i":25,"j":19,"x":178,"y":287},{"i":25,"j":20,"x":172,"y":292},{"i":25,"j":21,"x":166,"y":298},{"i":25,"j":22,"x":159,"y":303},{"i":25,"j":23,"x":153,"y":308},{"i":25,"j":24,"x":146,"y":313},{"i":25,"j":25,"x":140,"y":319},{"i":25,"j":26,"x":134,"y":324},{"i":25,"j":27,"x":127,"y":329},{"i":25,"j":28,"x":121,"y":335},{"i":25,"j":29,"x":114,"y":340},{"i":25,"j":30,"x":108,"y":345},
{"i":26,"j":0,"x":291,"y":193},{"i":26,"j":1,"x":284,"y":198},{"i":26,"j":2,"x":278,"y":202},{"i":26,"j":3,"x":271,"y":207},{"i":26,"j":4,"x":265,"y":212},{"i":26,"j":5,"x":258,"y":217},{"i":26,"j":6,"x":252,"y":221},{"i":26,"j":7,"x":245,"y":226},{"i":26,"j":8,"x":238,"y":231},{"i":26,"j":9,"x":232,"y":236},{"i":26,"j":10,"x":225,"y":240},{"i":26,"j":11,"x":219,"y":245},{"i":26,"j":12,"x":212,"y":250},{"i":26,"j":13,"x":206,"y":254},{"i":26,"j":14,"x":199,"y":259},{"i":26,"j":15,"x":192,"y":264},{"i":26,"j":16,"x":186,"y":269},{"i":26,"j":17,"x":179,"y":273},{"i":26,"j":18,"x":173,"y":278},{"i":26,"j":19,"x":166,"y":283},{"i":26,"j":20,"x":160,"y":288},{"i":26,"j":21,"x":153,"y":292},{"i":26,"j":22,"x":146,"y":297},{"i":26,"j":23,"x":140,"y":302},{"i":26,"j":24,"x":133,"y":307},{"i":26,"j":25,"x":127,"y":311},{"i":26,"j":26,"x":120,"y":316},{"i":26,"j":27,"x":114,"y":321},{"i":26,"j":28,"x":107,"y":325},{"i":26,"j":29,"x":101,"y":330},{"i":26,"j":30,"x":94,"y":335},
{"i":27,"j":0,"x":282,"y":199},{"i":27,"j":1,"x":275,"y":203},{"i":27,"j":2,"x":269,"y":207},{"i":27,"j":3,"x":262,"y":212},{"i":27,"j":4,"x":255,"y":216},{"i":27,"j":5,"x":248,"y":220},{"i":27,"j":6,"x":242,"y":224},{"i":27,"j":7,"x":235,"y":229},{"i":27,"j":8,"x":228,"y":233},{"i":27,"j":9,"x":221,"y":237},{"i":27,"j":10,"x":215,"y":241},{"i":27,"j":11,"x":208,"y":246},{"i":27,"j":12,"x":201,"y":250},{"i":27,"j":13,"x":194,"y":254},{"i":27,"j":14,"x":188,"y":258},{"i":27,"j":15,"x":181,"y":262},{"i":27,"j":16,"x":174,"y":267},{"i":27,"j":17,"x":168,"y":271},{"i":27,"j":18,"x":161,"y":275},{"i":27,"j":19,"x":154,"y":279},{"i":27,"j":20,"x":147,"y":284},{"i":27,"j":21,"x":141,"y":288},{"i":27,"j":22,"x":134,"y":292},{"i":27,"j":23,"x":127,"y":296},{"i":27,"j":24,"x":120,"y":301},{"i":27,"j":25,"x":114,"y":305},{"i":27,"j":26,"x":107,"y":309},{"i":27,"j":27,"x":100,"y":313},{"i":27,"j":28,"x":94,"y":317},{"i":27,"j":29,"x":87,"y":322},{"i":27,"j":30,"x":80,"y":326},
{"i":28,"j":0,"x":273,"y":206},{"i":28,"j":1,"x":266,"y":210},{"i":28,"j":2,"x":259,"y":213},{"i":28,"j":3,"x":252,"y":217},{"i":28,"j":4,"x":246,"y":221},{"i":28,"j":5,"x":239,"y":224},{"i":28,"j":6,"x":232,"y":228},{"i":28,"j":7,"x":225,"y":232},{"i":28,"j":8,"x":218,"y":236},{"i":28,"j":9,"x":211,"y":239},{"i":28,"j":10,"x":204,"y":243},{"i":28,"j":11,"x":197,"y":247},{"i":28,"j":12,"x":191,"y":250},{"i":28,"j":13,"x":184,"y":254},{"i":28,"j":14,"x":177,"y":258},{"i":28,"j":15,"x":170,"y":262},{"i":28,"j":16,"x":163,"y":265},{"i":28,"j":17,"x":156,"y":269},{"i":28,"j":18,"x":149,"y":273},{"i":28,"j":19,"x":143,"y":276},{"i":28,"j":20,"x":136,"y":280},{"i":28,"j":21,"x":129,"y":284},{"i":28,"j":22,"x":122,"y":287},{"i":28,"j":23,"x":115,"y":291},{"i":28,"j":24,"x":108,"y":295},{"i":28,"j":25,"x":101,"y":299},{"i":28,"j":26,"x":94,"y":302},{"i":28,"j":27,"x":88,"y":306},{"i":28,"j":28,"x":81,"y":310},{"i":28,"j":29,"x":74,"y":313},{"i":28,"j":30,"x":67,"y":317},
{"i":29,"j":0,"x":265,"y":214},{"i":29,"j":1,"x":258,"y":217},{"i":29,"j":2,"x":251,"y":221},{"i":29,"j":3,"x":245,"y":224},{"i":29,"j":4,"x":238,"y":227},{"i":29,"j":5,"x":231,"y":230},{"i":29,"j":6,"x":224,"y":234},{"i":29,"j":7,"x":217,"y":237},{"i":29,"j":8,"x":210,"y":240},{"i":29,"j":9,"x":204,"y":243},{"i":29,"j":10,"x":197,"y":247},{"i":29,"j":11,"x":190,"y":250},{"i":29,"j":12,"x":183,"y":253},{"i":29,"j":13,"x":176,"y":257},{"i":29,"j":14,"x":169,"y":260},{"i":29,"j":15,"x":163,"y":263},{"i":29,"j":16,"x":156,"y":266},{"i":29,"j":17,"x":149,"y":270},{"i":29,"j":18,"x":142,"y":273},{"i":29,"j":19,"x":135,"y":276},{"i":29,"j":20,"x":128,"y":279},{"i":29,"j":21,"x":122,"y":283},{"i":29,"j":22,"x":115,"y":286},{"i":29,"j":23,"x":108,"y":289},{"i":29,"j":24,"x":101,"y":292},{"i":29,"j":25,"x":94,"y":296},{"i":29,"j":26,"x":87,"y":299},{"i":29,"j":27,"x":81,"y":302},{"i":29,"j":28,"x":74,"y":306},{"i":29,"j":29,"x":67,"y":309},{"i":29,"j":30,"x":60,"y":312},
{"i":30,"j":0,"x":257,"y":222},{"i":30,"j":1,"x":250,"y":225},{"i":30,"j":2,"x":243,"y":228},{"i":30,"j":3,"x":237,"y":231},{"i":30,"j":4,"x":230,"y":234},{"i":30,"j":5,"x":223,"y":237},{"i":30,"j":6,"x":216,"y":241},{"i":30,"j":7,"x":209,"y":244},{"i":30,"j":8,"x":203,"y":247},{"i":30,"j":9,"x":196,"y":251},{"i":30,"j":10,"x":189,"y":254},{"i":30,"j":11,"x":182,"y":256},{"i":30,"j":12,"x":175,"y":258},{"i":30,"j":13,"x":169,"y":260},{"i":30,"j":14,"x":162,"y":262},{"i":30,"j":15,"x":155,"y":264},{"i":30,"j":16,"x":148,"y":267},{"i":30,"j":17,"x":141,"y":270},{"i":30,"j":18,"x":135,"y":272},{"i":30,"j":19,"x":128,"y":275},{"i":30,"j":20,"x":121,"y":278},{"i":30,"j":21,"x":114,"y":280},{"i":30,"j":22,"x":107,"y":283},{"i":30,"j":23,"x":101,"y":286},{"i":30,"j":24,"x":94,"y":289},{"i":30,"j":25,"x":87,"y":291},{"i":30,"j":26,"x":80,"y":295},{"i":30,"j":27,"x":73,"y":298},{"i":30,"j":28,"x":67,"y":301},{"i":30,"j":29,"x":60,"y":304},{"i":30,"j":30,"x":53,"y":307}],"sa":[{"t":"1.1","x":68,"y":612},{"t":"1.0","x":148,"y":645},{"t":"0.9","x":233,"y":680},{"t":"0.8","x":317,"y":715},{"t":"0.7","x":407,"y":750}],"w":[{"t":"0.24","x":472,"y":688},{"t":"0.26","x":524,"y":615},{"t":"0.28","x":575,"y":550},{"t":"0.30","x":623,"y":483}],"z":[{"t":"15","x":32,"y":214},{"t":"10","x":38,"y":408},{"t":"5","x":45,"y":592}]},"encoding":{"x":{"field":"x","type":"quantitative","scale":{"domain":[0,802]},"axis":null},"y":{"field":"y","type":"quantitative","scale":{"domain":[769,0]},"axis":null}},"layer":[{"data":{"name":"axes"},"mark":{"type":"line","stroke":"black","strokeWidth":2.6},"encoding":{"detail":{"field":"s"}}},{"data":{"name":"mesh"},"mark":{"type":"line","stroke":"#0000ff","strokeWidth":2.8},"encoding":{"detail":{"field":"i"},"order":{"field":"j"}}},{"data":{"name":"mesh"},"mark":{"type":"line","stroke":"#0000ff","strokeWidth":2.8},"encoding":{"detail":{"field":"j"},"order":{"field":"i"}}},{"data":{"name":"red"},"mark":{"type":"line","stroke":"#ff0000","strokeWidth":3},"encoding":{"order":{"field":"o"}}},{"data":{"name":"sa"},"mark":{"type":"text","font":"Liberation Sans","fontSize":23,"angle":25,"baseline":"middle"},"encoding":{"text":{"field":"t"}}},{"data":{"name":"w"},"mark":{"type":"text","font":"Liberation Sans","fontSize":23,"angle":310,"baseline":"middle"},"encoding":{"text":{"field":"t"}}},{"data":{"name":"z"},"mark":{"type":"text","font":"Liberation Sans","fontSize":36,"align":"center","baseline":"middle"},"encoding":{"text":{"field":"t"}}},{"data":{"values":[{"t":"SA/B","x":167,"y":693}]},"mark":{"type":"text","font":"Liberation Sans","fontSize":26,"angle":25,"baseline":"middle"},"encoding":{"text":{"field":"t"}}},{"data":{"values":[{"t":"W/B","x":545,"y":647}]},"mark":{"type":"text","font":"Liberation Sans","fontSize":26,"angle":310,"baseline":"middle"},"encoding":{"text":{"field":"t"}}},{"data":{"values":[{"t":"ECHIP","x":80,"y":593}]},"mark":{"type":"text","font":"Liberation Sans","fontSize":16,"angle":25,"baseline":"middle"},"encoding":{"text":{"field":"t"}}},{"data":{"values":[{"t":"OD","x":274,"y":69}]},"mark":{"type":"text","font":"Liberation Sans","fontSize":36,"baseline":"middle"},"encoding":{"text":{"field":"t"}}},{"data":{"values":[{"t":"K/B = \u00a01.860","x":695,"y":22}]},"mark":{"type":"text","font":"Liberation Sans","fontSize":36,"baseline":"middle"},"encoding":{"text":{"field":"t"}}}]}
